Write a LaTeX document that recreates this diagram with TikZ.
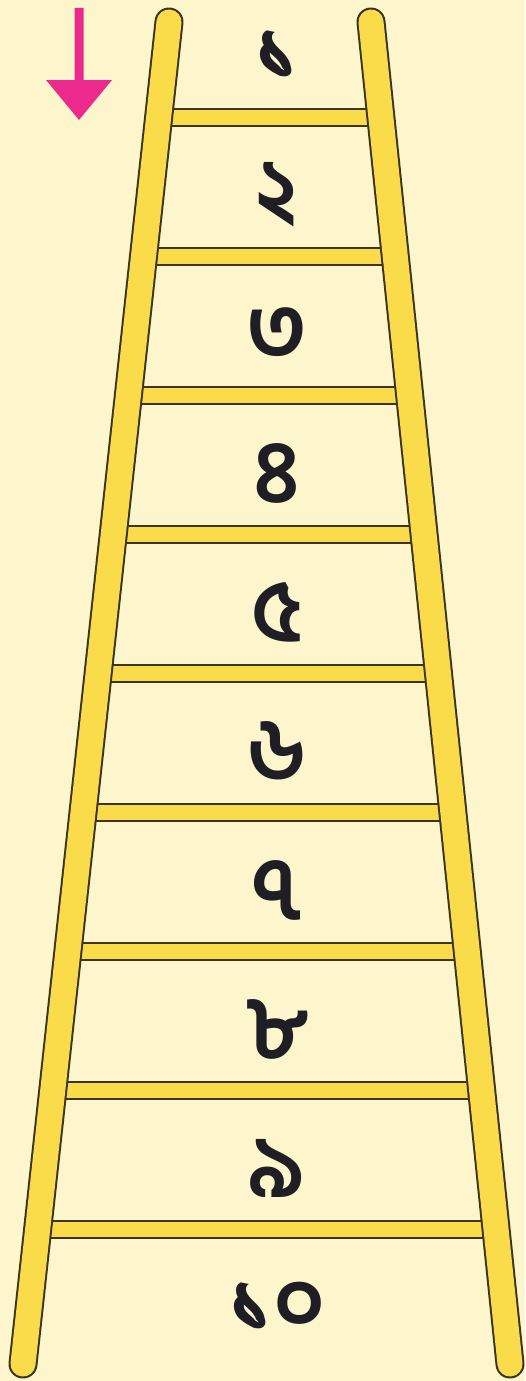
\documentclass[tikz,border=0pt]{standalone}
\usepackage{fontspec}
\newfontfamily\bn[Script=Bengali,BoldFont={* SemiBold}]{Hind Siliguri}
\definecolor{bg}{HTML}{FDF5CB}
\definecolor{wood}{HTML}{FADC4A}
\definecolor{edge}{HTML}{3A3420}
\definecolor{pink}{HTML}{EC2A8D}
\definecolor{ink}{HTML}{1E1E24}
\tikzset{
  railout/.style={line width=29pt,draw=edge,line cap=round},
  railin/.style={line width=25pt,draw=wood,line cap=round},
  rungout/.style={line width=19pt,draw=edge},
  rungin/.style={line width=15pt,draw=wood},
  numlabel/.style={font=\bn\bfseries\fontsize{88}{100}\selectfont,text=ink,inner sep=0pt}
}
\begin{document}
\begin{tikzpicture}[x=1pt,y=-1pt]
\fill[bg] (0,0) rectangle (525,1381);
\useasboundingbox (0,0) rectangle (525,1381);
% rungs
\foreach \y in {117,256,395,534,673,812,951,1090,1229}{
  \pgfmathsetmacro\xl{169-146*((\y-21)/1344)}
  \pgfmathsetmacro\xr{371+139*((\y-21)/1344)}
  \draw[rungout] (\xl,\y) -- (\xr,\y);
  \draw[rungin] (\xl,\y) -- (\xr,\y);
}
% rails
\coordinate (lt) at (169,22);
\coordinate (lb) at (23,1364);
\coordinate (rt) at (371,22);
\coordinate (rb) at (510,1364);
\draw[railout] (lt) -- (lb);
\draw[railin] (lt) -- (lb);
\draw[railout] (rt) -- (rb);
\draw[railin] (rt) -- (rb);
% numbers
\foreach \t [count=\i] in {১,২,৩,৪,৫,৬,৭,৮,৯,১০}{
  \node[numlabel] (n\i) at (277,{56+139*(\i-1)}) {\t};
}
% arrow
\fill[pink] (74.5,8) -- (83.5,8) -- (83.5,80) -- (112,80) -- (79,120) -- (46,80) -- (74.5,80) -- cycle;
\end{tikzpicture}
\end{document}
